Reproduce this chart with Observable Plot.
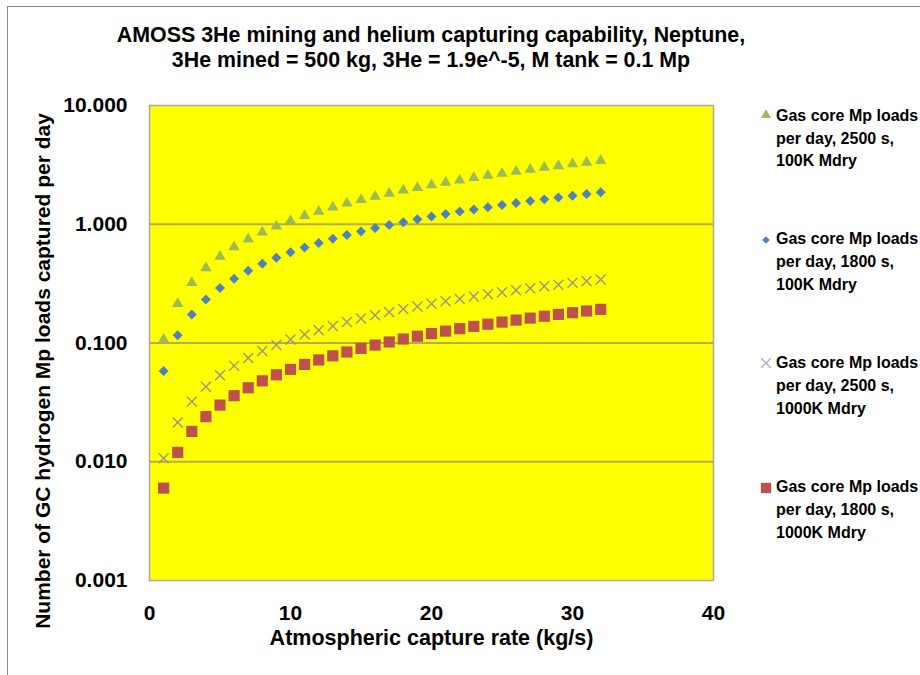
<!DOCTYPE html>
<html>
<head>
<meta charset="utf-8">
<script src="https://cdn.jsdelivr.net/npm/d3@7"></script>
<script src="https://cdn.jsdelivr.net/npm/@observablehq/plot@0.6"></script>
<style>
  body { margin: 0; background: #fff; }
  #chart {
    position: relative; width: 920px; height: 675px; overflow: hidden;
    font-family: "Liberation Sans", Arial, sans-serif; font-weight: bold; color: #000;
  }
  #chart > svg { position: absolute; left: 0; top: 0; }
  #edge {
    position: absolute; left: 7px; top: 6px; width: 930px; height: 690px;
    border-top: 1.5px solid #8a8a8a; border-left: 1.5px solid #8a8a8a;
  }
  #title {
    position: absolute; left: 81px; width: 700px; top: 23px;
    text-align: center; font-size: 21.4px; line-height: 25px; white-space: nowrap;
  }
  .item { position: absolute; left: 776px; font-size: 16px; line-height: 22.8px; white-space: nowrap; }
  .mark { position: absolute; overflow: visible; }
</style>
</head>
<body>
<div id="chart">
  <div id="edge"></div>
  <div id="title">AMOSS 3He mining and helium capturing capability, Neptune,<br>3He mined = 500 kg, 3He = 1.9e^-5, M tank = 0.1 Mp</div>
</div>
<script>
// Atmospheric capture rate (kg/s)
const rate = [1, 2, 3, 4, 5, 6, 7, 8, 9, 10, 11, 12, 13, 14, 15, 16,
              17, 18, 19, 20, 21, 22, 23, 24, 25, 26, 27, 28, 29, 30, 31, 32];

// Gas core Mp loads captured per day, one list per engine / dry-mass case
const loads2500s100K = [0.107, 0.214, 0.321, 0.428, 0.535, 0.642, 0.749, 0.856, 0.963, 1.07,
  1.18, 1.28, 1.39, 1.50, 1.61, 1.71, 1.82, 1.93, 2.03, 2.14, 2.25, 2.35, 2.46, 2.57,
  2.68, 2.78, 2.89, 3.00, 3.10, 3.21, 3.32, 3.42];
const loads1800s100K = [0.058, 0.116, 0.174, 0.232, 0.290, 0.348, 0.406, 0.464, 0.522, 0.580,
  0.638, 0.696, 0.754, 0.812, 0.870, 0.928, 0.986, 1.04, 1.10, 1.16, 1.22, 1.28, 1.33, 1.39,
  1.45, 1.51, 1.57, 1.62, 1.68, 1.74, 1.80, 1.86];
const loads2500s1000K = [0.0107, 0.0214, 0.0321, 0.0428, 0.0535, 0.0642, 0.0749, 0.0856, 0.0963, 0.107,
  0.118, 0.128, 0.139, 0.150, 0.161, 0.171, 0.182, 0.193, 0.203, 0.214, 0.225, 0.235, 0.246, 0.257,
  0.268, 0.278, 0.289, 0.300, 0.310, 0.321, 0.332, 0.342];
const loads1800s1000K = [0.006, 0.012, 0.018, 0.024, 0.030, 0.036, 0.042, 0.048, 0.054, 0.060,
  0.066, 0.072, 0.078, 0.084, 0.090, 0.096, 0.102, 0.108, 0.114, 0.120, 0.126, 0.132, 0.138, 0.144,
  0.150, 0.156, 0.162, 0.168, 0.174, 0.180, 0.186, 0.192];

const seriesNames = [
  "Gas core Mp loads per day, 2500 s, 100K Mdry",
  "Gas core Mp loads per day, 1800 s, 100K Mdry",
  "Gas core Mp loads per day, 2500 s, 1000K Mdry",
  "Gas core Mp loads per day, 1800 s, 1000K Mdry"
];
const xTicks = [0, 10, 20, 30, 40];
const yTicks = [0.001, 0.01, 0.1, 1, 10];
const gridValues = [0.01, 0.1, 1];

const xLabel = "Atmospheric capture rate (kg/s)";
const yLabel = "Number of GC hydrogen Mp loads captured per day";

// symbol styling per series (legend symbol radius in lr)
const styles = [
  {symbol: "triangle", fill: "#9BBB59", stroke: "none", r: 4.2, sw: 0, lr: 3.7},
  {symbol: "diamond2", fill: "#4F81BD", stroke: "none", r: 4.5, sw: 0, lr: 3.4},
  {symbol: "times", fill: "none", stroke: "#9b9582", r: 4.6, sw: 1.4, lr: 4.4},
  {symbol: "square", fill: "#C0504D", stroke: "none", r: 6.3, sw: 0, lr: 5.8}
];

const valueLists = [loads2500s100K, loads1800s100K, loads2500s1000K, loads1800s1000K];
const series = valueLists.map(vals => rate.map((x, i) => ({x, y: vals[i]})));

const font = `"Liberation Sans", Arial, sans-serif`;

const plot = Plot.plot({
  width: 920,
  height: 675,
  marginLeft: 149,
  marginRight: 207,
  marginTop: 105,
  marginBottom: 95,
  style: {fontFamily: font, fontSize: "21px", fontWeight: "bold", color: "#000", background: "transparent", overflow: "visible"},
  x: {domain: [0, 40], ticks: xTicks, tickSize: 0, tickPadding: 25, label: null},
  y: {type: "log", domain: [0.001, 10], ticks: yTicks, tickFormat: d3.format(".3f"), tickSize: 0, tickPadding: 22, label: null},
  marks: [
    Plot.frame({fill: "#FFFF00", stroke: "none"}),
    Plot.ruleY(gridValues, {stroke: "#b3ad55", strokeWidth: 2}),
    Plot.frame({stroke: "#a9a9a9", strokeWidth: 1.5}),
    ...series.map((data, k) => Plot.dot(data, {
      x: "x", y: "y",
      symbol: () => styles[k].symbol,
      fill: styles[k].fill, stroke: styles[k].stroke, strokeWidth: styles[k].sw,
      r: styles[k].r
    })),
    Plot.text([xLabel], {text: d => d, frameAnchor: "bottom", textAnchor: "middle", dy: 64, fontSize: 21.5, fontWeight: "bold"}),
    Plot.text([yLabel], {text: d => d, frameAnchor: "left", textAnchor: "middle", rotate: -90, dx: -106, dy: 28, fontSize: 21, fontWeight: "bold"})
  ]
});

const chart = document.getElementById("chart");
chart.appendChild(plot);

// legend: wrapped series names with their symbols
const legendTops = [104.8, 228, 352, 476];
const markerY = [115, 240, 363, 488];
const wrapped = seriesNames.map(s => {
  const m = s.match(/^(Gas core Mp loads) (per day, [^,]+,) (.*)$/);
  return [m[1], m[2], m[3]];
});
const shapes = {triangle: d3.symbolTriangle, diamond2: d3.symbolDiamond2, times: d3.symbolTimes, square: d3.symbolSquare};
seriesNames.forEach((name, k) => {
  const div = document.createElement("div");
  div.className = "item";
  div.style.top = legendTops[k] + "px";
  div.innerHTML = wrapped[k].join("<br>");
  chart.appendChild(div);

  const st = styles[k];
  const svg = d3.create("svg").attr("class", "mark").attr("width", 20).attr("height", 20)
    .style("left", (765.5 - 10) + "px").style("top", (markerY[k] - 10) + "px");
  svg.append("path")
    .attr("transform", "translate(10,10)")
    .attr("d", d3.symbol(shapes[st.symbol], st.lr * st.lr * Math.PI)())
    .attr("fill", st.fill).attr("stroke", st.stroke === "none" ? null : "#b3a6cf")
    .attr("stroke-width", st.sw || null);
  chart.appendChild(svg.node());
});
</script>
</body>
</html>
